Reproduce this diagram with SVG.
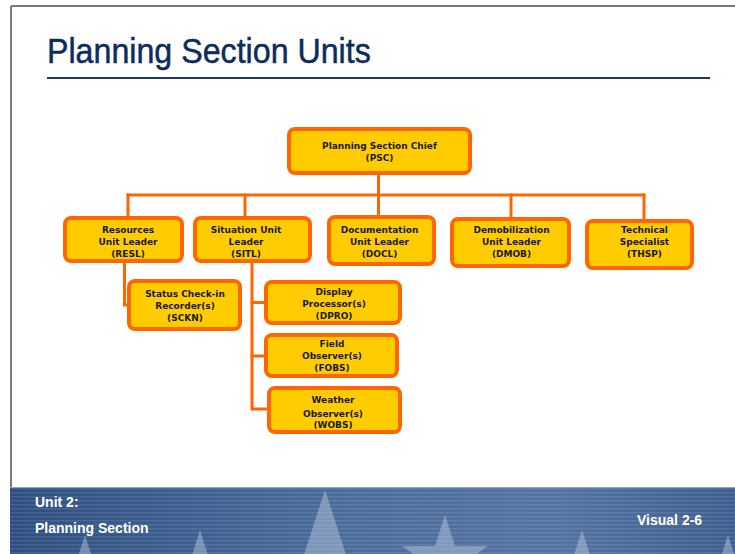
<svg xmlns="http://www.w3.org/2000/svg" width="735" height="554" viewBox="0 0 735 554">
<defs>
<style>
.box{fill:#ffcc00;stroke:#ff6600;stroke-width:4}
.t{font-family:"DejaVu Sans",Verdana,sans-serif;font-weight:bold;font-size:9px;fill:#1a1a1a;text-anchor:middle}
.ln{stroke:#ff6600;stroke-width:3;fill:none;stroke-linecap:square}
.ft{font-family:"Liberation Sans",Arial,sans-serif;font-weight:bold;font-size:14px;fill:#ffffff}
.star{fill:#c6d4e8;opacity:0.42}
</style>
<linearGradient id="fg" x1="0" y1="0" x2="1" y2="0">
<stop offset="0" stop-color="#2e4f80"/>
<stop offset="0.45" stop-color="#4a6c9b"/>
<stop offset="0.75" stop-color="#5474a2"/>
<stop offset="1" stop-color="#3d5e8e"/>
</linearGradient>
<pattern id="stripes" width="8" height="4" patternUnits="userSpaceOnUse">
<rect x="0" y="0" width="8" height="1.5" fill="#ffffff" opacity="0.10"/>
</pattern>
</defs>
<rect x="0" y="0" width="735" height="554" fill="#ffffff"/>
<g id="frame">
<line x1="11" y1="6" x2="735" y2="6" stroke="#7a7a7a" stroke-width="2"/>
<line x1="11" y1="6" x2="11" y2="487" stroke="#7a7a7a" stroke-width="2"/>
</g>
<g id="title">
<text transform="translate(47,63) scale(0.92,1)" x="0" y="0" font-family="Liberation Sans, Arial, sans-serif" font-size="35" fill="#0c2d5c" stroke="#0c2d5c" stroke-width="0.5">Planning Section Units</text>
<line x1="47" y1="78" x2="710" y2="78" stroke="#1f3a5f" stroke-width="2"/>
</g>
<g id="footer">
<rect x="10" y="487" width="725" height="67" fill="url(#fg)"/>
<rect x="10" y="487" width="725" height="67" fill="url(#stripes)"/>
<polygon class="star" points="325,490 349.7,566 430,566 365,613 390,690 325,643 260,690 285,613 220,566 300.3,566"/>
<polygon class="star" points="445,515 455,546 488,546 461,565 471,596 445,577 419,596 429,565 402,546 435,546"/>
<polygon class="star" points="582,530 590,555 616,555 595,570 603,595 582,580 561,595 569,570 548,555 574,555"/>
<polygon class="star" points="728,535 737,563 767,563 743,580 752,608 728,591 704,608 713,580 689,563 719,563"/>
<polygon class="star" points="85,535 95,566 128,566 101,585 111,616 85,597 59,616 69,585 42,566 75,566"/>
<polygon class="star" points="200,530 212,568 252,568 220,591 232,629 200,606 168,629 180,591 148,568 188,568"/>
<line x1="10" y1="487.5" x2="735" y2="487.5" stroke="#8ea4c4" stroke-width="1"/>
<text class="ft" x="35" y="507">Unit 2:</text>
<text class="ft" x="35" y="533">Planning Section</text>
<text class="ft" x="637" y="525">Visual 2-6</text>
</g>
<g id="connectors">
<line class="ln" x1="378.5" y1="175" x2="378.5" y2="195"/>
<line class="ln" x1="128" y1="195" x2="644" y2="195"/>
<line class="ln" x1="128" y1="195" x2="128" y2="216"/>
<line class="ln" x1="245" y1="195" x2="245" y2="216"/>
<line class="ln" x1="378.5" y1="195" x2="378.5" y2="215"/>
<line class="ln" x1="511" y1="195" x2="511" y2="217"/>
<line class="ln" x1="644" y1="195" x2="644" y2="219"/>
<polyline class="ln" points="124.5,263 124.5,305 128,305"/>
<polyline class="ln" points="252,263 252,409 266,409"/>
<line class="ln" x1="252" y1="302.5" x2="264" y2="302.5"/>
<line class="ln" x1="252" y1="356" x2="264" y2="356"/>
</g>
<g id="psc">
<rect class="box" x="289" y="129" width="181" height="44" rx="6"/>
<text class="t" x="379.5" y="149.3">Planning Section Chief</text>
<text class="t" x="379.5" y="160.6">(PSC)</text>
</g>
<g id="resl">
<rect class="box" x="65" y="218" width="117" height="43" rx="6"/>
<text class="t" x="128" y="232.6">Resources</text>
<text class="t" x="128" y="244.6">Unit Leader</text>
<text class="t" x="128" y="256.6">(RESL)</text>
</g>
<g id="sitl">
<rect class="box" x="195" y="218" width="115" height="43" rx="6"/>
<text class="t" x="246" y="232.6">Situation Unit</text>
<text class="t" x="246" y="244.6">Leader</text>
<text class="t" x="246" y="256.6">(SITL)</text>
</g>
<g id="docl">
<rect class="box" x="329" y="217" width="105" height="47" rx="6"/>
<text class="t" x="379.5" y="232.6">Documentation</text>
<text class="t" x="379.5" y="244.6">Unit Leader</text>
<text class="t" x="379.5" y="256.6">(DOCL)</text>
</g>
<g id="dmob">
<rect class="box" x="452" y="219" width="117" height="47" rx="6"/>
<text class="t" x="511.5" y="232.6">Demobilization</text>
<text class="t" x="511.5" y="244.6">Unit Leader</text>
<text class="t" x="511.5" y="256.6">(DMOB)</text>
</g>
<g id="thsp">
<rect class="box" x="587" y="221" width="105" height="47" rx="6"/>
<text class="t" x="644.5" y="232.6">Technical</text>
<text class="t" x="644.5" y="244.6">Specialist</text>
<text class="t" x="644.5" y="256.6">(THSP)</text>
</g>
<g id="sckn">
<rect class="box" x="129" y="281" width="111" height="48" rx="6"/>
<text class="t" x="185" y="297.3">Status Check-in</text>
<text class="t" x="185" y="308.6">Recorder(s)</text>
<text class="t" x="185" y="320.6">(SCKN)</text>
</g>
<g id="dpro">
<rect class="box" x="266" y="282" width="134" height="41" rx="6"/>
<text class="t" x="334" y="295.3">Display</text>
<text class="t" x="334" y="306.6">Processor(s)</text>
<text class="t" x="334" y="318.6">(DPRO)</text>
</g>
<g id="fobs">
<rect class="box" x="266" y="335" width="131" height="41" rx="6"/>
<text class="t" x="332" y="346.6">Field</text>
<text class="t" x="332" y="358.6">Observer(s)</text>
<text class="t" x="332" y="370.6">(FOBS)</text>
</g>
<g id="wobs">
<rect class="box" x="269" y="388" width="131" height="44" rx="6"/>
<text class="t" x="333" y="403.3">Weather</text>
<text class="t" x="333" y="416.6">Observer(s)</text>
<text class="t" x="333" y="428.3">(WOBS)</text>
</g>
</svg>
